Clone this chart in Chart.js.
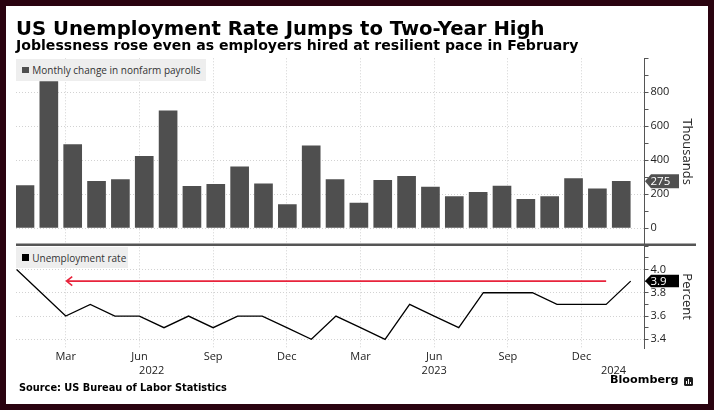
<!DOCTYPE html>
<html><head><meta charset="utf-8">
<script src="https://cdn.jsdelivr.net/npm/chart.js@4.4.1/dist/chart.umd.min.js"></script>
<style>
html,body{margin:0;padding:0;}
body{width:714px;height:410px;background:#2a0310;position:relative;overflow:hidden;}
#panel{position:absolute;left:6px;top:6px;width:702px;height:398px;background:#fff;}
canvas{position:absolute;left:0;top:0;}
.t{position:absolute;white-space:nowrap;line-height:1;color:#000;}
#title{left:16px;top:16.7px;font:bold 19.65px "DejaVu Sans";}
#sub{left:16px;top:37.4px;font:bold 14.1px "DejaVu Sans";}
#src{left:19px;top:381.8px;font:bold 9.8px "DejaVu Sans";}
#bbg{left:610px;top:372.5px;font:bold 11.2px "DejaVu Sans";}
#icon{position:absolute;left:684px;top:377px;width:8.5px;height:9px;background:#1e1e1e;border-radius:1.5px;}
#icon i{position:absolute;bottom:2px;width:1px;background:#fff;}
.lg{position:absolute;background:#eeeeee;}
.lg .sq{position:absolute;left:6.3px;width:6.7px;height:6.7px;}
.lg .tx{position:absolute;left:16.3px;font:10px "Open Sans";color:#333;line-height:1;white-space:nowrap;}
</style></head>
<body>
<div id="panel"></div>
<canvas id="c" width="714" height="410"></canvas>
<div class="t" id="title">US Unemployment Rate Jumps to Two-Year High</div>
<div class="t" id="sub">Joblessness rose even as employers hired at resilient pace in February</div>
<div class="lg" style="left:16px;top:59px;width:190px;height:21.7px;"><div class="sq" style="top:7.7px;background:#4f4f4f;"></div><div class="tx" style="top:6.1px;">Monthly change in nonfarm payrolls</div></div>
<div class="lg" style="left:16px;top:246.7px;width:112.3px;height:21.6px;"><div class="sq" style="top:7.6px;background:#000;"></div><div class="tx" style="top:6.1px;">Unemployment rate</div></div>
<div class="t" id="src">Source: US Bureau of Labor Statistics</div>
<div class="t" id="bbg">Bloomberg</div>
<div id="icon"><i style="left:2px;height:3px"></i><i style="left:4px;height:5px"></i><i style="left:6px;height:2px"></i></div>
<script>
// ---- data ----
const months = ['Jan 2022','Feb 2022','Mar 2022','Apr 2022','May 2022','Jun 2022','Jul 2022','Aug 2022','Sep 2022','Oct 2022','Nov 2022','Dec 2022',
  'Jan 2023','Feb 2023','Mar 2023','Apr 2023','May 2023','Jun 2023','Jul 2023','Aug 2023','Sep 2023','Oct 2023','Nov 2023','Dec 2023',
  'Jan 2024','Feb 2024'];
const payrolls = [250,863,492,275,286,422,690,245,257,361,261,138,485,286,147,281,304,241,186,210,247,169,186,292,231,275];
const unemployment = [4.0,3.8,3.6,3.7,3.6,3.6,3.5,3.6,3.5,3.6,3.6,3.5,3.4,3.6,3.5,3.4,3.7,3.6,3.5,3.8,3.8,3.8,3.7,3.7,3.7,3.9];
const monthTickLabels = ['Mar','Jun','Sep','Dec'];
const yearTickLabels = ['2022','2023','2024'];
const yearTickAt = [5.5, 17, 24.3];
const payrollTickLabels = [0,200,400,600,800];
const rateTickLabels = [3.4,3.6,3.8,4.0];
const arrowFrom = 'Mar 2022';
const arrowTo = 'Jan 2024';

// ---- derived ----
const monthTickIdx = months.map((m,i)=>[m.slice(0,3),i]).filter(p=>monthTickLabels.includes(p[0])).map(p=>p[1]);
const gridCol = '#d2d2d2';
const axisCol = '#555';
const txtCol = '#222';
const XB_MIN = -0.377, XB_MAX = 25.975;
const XL_MIN = -0.0244, XL_MAX = 25.562;
Chart.defaults.font.family = '"Open Sans", sans-serif';
Chart.defaults.font.size = 11;
Chart.defaults.color = txtCol;

const overlay = {
  id: 'overlay',
  afterDatasetsDraw(chart) {
    const {ctx, scales} = chart;
    const xl = scales.xl, yb = scales.yb, yr = scales.yr;
    ctx.save();
    // separator between panels
    ctx.strokeStyle = '#555';
    ctx.lineWidth = 2.6;
    ctx.beginPath();
    ctx.moveTo(chart.chartArea.left, yr.top - 0.3);
    ctx.lineTo(yr.right - 4, yr.top - 0.3);
    ctx.stroke();
    // red arrow at latest rate
    const lastRate = unemployment[unemployment.length - 1];
    const ay = yr.getPixelForValue(lastRate);
    const ax1 = xl.getPixelForValue(months.indexOf(arrowFrom));
    const ax2 = xl.getPixelForValue(months.indexOf(arrowTo));
    ctx.strokeStyle = '#e8243c';
    ctx.lineWidth = 1.6;
    ctx.beginPath();
    ctx.moveTo(ax1 + 0.5, ay); ctx.lineTo(ax2, ay);
    ctx.moveTo(ax1 + 6.5, ay - 4.5); ctx.lineTo(ax1 + 0.8, ay); ctx.lineTo(ax1 + 6.5, ay + 4.5);
    ctx.stroke();
    // last value tags
    function tag(yPix, text, color, h) {
      const x0 = yb.left + 0.5;
      ctx.fillStyle = color;
      ctx.beginPath();
      ctx.moveTo(x0, yPix);
      ctx.lineTo(x0 + 6, yPix - h/2);
      ctx.lineTo(x0 + 34, yPix - h/2);
      ctx.lineTo(x0 + 34, yPix + h/2);
      ctx.lineTo(x0 + 6, yPix + h/2);
      ctx.closePath();
      ctx.fill();
      ctx.fillStyle = '#fff';
      ctx.font = '11.5px "Open Sans"';
      ctx.textAlign = 'left';
      ctx.textBaseline = 'middle';
      ctx.fillText(text, x0 + 5.5, yPix + 0.5);
    }
    tag(yb.getPixelForValue(payrolls[payrolls.length - 1]), String(payrolls[payrolls.length - 1]), '#505050', 14);
    tag(ay, lastRate.toFixed(1), '#000', 12.5);
    ctx.restore();
  }
};

new Chart(document.getElementById('c'), {
  type: 'bar',
  data: {
    datasets: [
      { type: 'bar', label: 'Monthly change in nonfarm payrolls',
        data: payrolls.map((v,i)=>({x:i, y:v})),
        xAxisID: 'xb', yAxisID: 'yb', backgroundColor: '#4f4f4f', borderWidth: 0,
        barThickness: 18, grouped: false },
      { type: 'line', label: 'Unemployment rate',
        data: unemployment.map((v,i)=>({x:i, y:v})),
        xAxisID: 'xl', yAxisID: 'yr', borderColor: '#000', borderWidth: 1.3, pointRadius: 0, tension: 0, fill: false }
    ]
  },
  options: {
    responsive: false, animation: false, devicePixelRatio: 1,
    layout: { padding: { left: 16, top: 58.3, right: 14, bottom: 29.7 } },
    plugins: { legend: { display: false }, tooltip: { enabled: false } },
    scales: {
      xb: { type: 'linear', axis: 'x', position: 'bottom', display: false, offset: false, bounds: 'data',
            min: XB_MIN, max: XB_MAX,
            afterDataLimits: s => { s.min = XB_MIN; s.max = XB_MAX; },
            grid: { offset: false } },
      xl: { type: 'linear', axis: 'x', position: 'bottom', offset: false, min: XL_MIN, max: XL_MAX,
            afterBuildTicks: s => { s.ticks = monthTickIdx.map(v => ({value: v})); },
            afterFit: s => { s.height = 16; },
            ticks: { autoSkip: false, maxRotation: 0, padding: 2, color: txtCol,
                     callback: v => months[v] ? months[v].slice(0,3) : '' },
            grid: { color: gridCol, drawTicks: false, offset: false, lineWidth: 1 },
            border: { display: false, dash: [1, 2] } },
      xy: { type: 'linear', axis: 'x', position: 'bottom', offset: false, min: XL_MIN, max: XL_MAX,
            afterBuildTicks: s => { s.ticks = yearTickAt.map(v => ({value: v})); },
            afterFit: s => { s.height = 16; },
            ticks: { autoSkip: false, maxRotation: 0, padding: 0, color: txtCol,
                     callback: (v, i) => yearTickLabels[i] },
            grid: { display: false, drawTicks: false },
            border: { display: false } },
      yb: { type: 'linear', axis: 'y', position: 'right', stack: 'panels', stackWeight: 186.7, min: -100, max: 1000,
            afterBuildTicks: s => { const t = []; for (let v = -100; v <= 1000; v += 100) t.push({value: v}); s.ticks = t; },
            afterFit: s => { s.width = 55.5; },
            ticks: { autoSkip: false, padding: 2, color: txtCol,
                     callback: v => payrollTickLabels.includes(v) ? String(v) : '' },
            grid: { color: c => (c.tick && payrollTickLabels.includes(c.tick.value)) ? gridCol : 'rgba(0,0,0,0)',
                    tickColor: axisCol, tickLength: 4, drawTicks: true },
            border: { display: true, color: axisCol, width: 1, dash: [1, 2] },
            title: { display: true, text: 'Thousands', color: txtCol, font: { size: 13 }, padding: { top: 5.5, bottom: 0 } } },
      yr: { type: 'linear', axis: 'y', position: 'right', stack: 'panels', stackWeight: 103.3, min: 3.323, max: 4.21,
            afterBuildTicks: s => { const t = []; for (let k = 34; k <= 42; k++) t.push({value: k / 10}); s.ticks = t; },
            afterFit: s => { s.width = 55.5; },
            ticks: { autoSkip: false, padding: 2, color: txtCol,
                     callback: v => rateTickLabels.includes(v) ? v.toFixed(1) : '' },
            grid: { color: c => (c.tick && rateTickLabels.includes(c.tick.value)) ? gridCol : 'rgba(0,0,0,0)',
                    tickColor: axisCol, tickLength: 4, drawTicks: true },
            border: { display: true, color: axisCol, width: 1, dash: [1, 2] },
            title: { display: true, text: 'Percent', color: txtCol, font: { size: 13 }, padding: { top: 5.5, bottom: 0 } } }
    }
  },
  plugins: [overlay]
});
</script>
</body></html>
